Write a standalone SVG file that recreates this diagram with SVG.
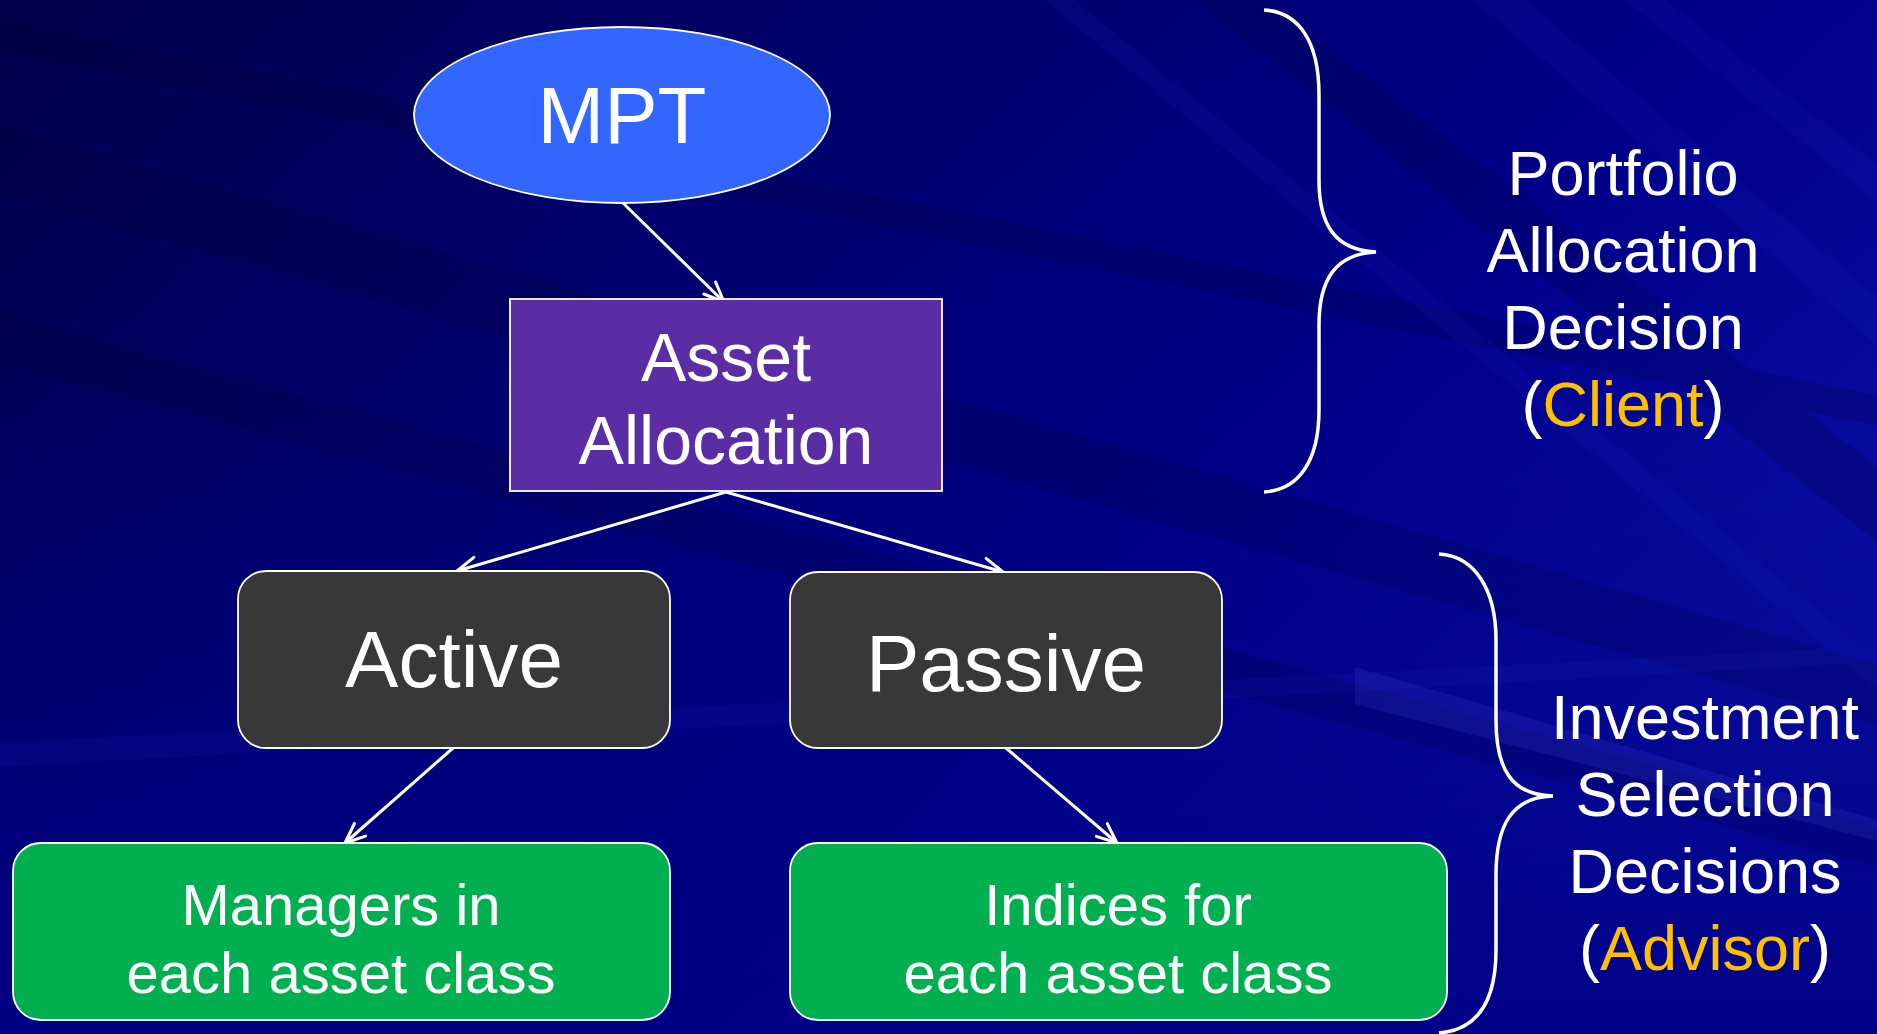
<svg xmlns="http://www.w3.org/2000/svg" width="1877" height="1034" viewBox="0 0 1877 1034">
  <defs>
    <linearGradient id="bg" x1="0" y1="0" x2="1" y2="0.6">
      <stop offset="0" stop-color="#00004a"/>
      <stop offset="0.35" stop-color="#00006c"/>
      <stop offset="0.7" stop-color="#00008a"/>
      <stop offset="1" stop-color="#0810a6"/>
    </linearGradient>
    <linearGradient id="lowfade" x1="0" y1="0" x2="0" y2="1">
      <stop offset="0" stop-color="#000080" stop-opacity="0"/>
      <stop offset="1" stop-color="#000084" stop-opacity="0.9"/>
    </linearGradient>
    <marker id="arrow" viewBox="0 0 12 12" refX="11" refY="6" markerWidth="24" markerHeight="24" markerUnits="userSpaceOnUse" orient="auto">
      <path d="M1,1.8 L11,6 L1,10.2" fill="none" stroke="#ffffff" stroke-width="1.5" stroke-linecap="round" stroke-linejoin="round"/>
    </marker>
    <style>
      .lbl { font-family: "Liberation Sans", Arial, sans-serif; fill: #ffffff; text-anchor: middle; }
      .hl { fill: #ffc000; }
      .edge { fill: none; stroke: #ffffff; stroke-width: 3; marker-end: url(#arrow); }
      .brace { fill: none; stroke: #ffffff; stroke-width: 3.5; }
      .outline { stroke: #ffffff; stroke-width: 1.8; }
    </style>
  </defs>

  <!-- backdrop with soft diagonal rays -->
  <g id="backdrop">
    <rect width="1877" height="1034" fill="url(#bg)"/>
    <rect y="420" width="1877" height="614" fill="url(#lowfade)"/>
    <g fill="#000030" opacity="0.18">
      <polygon points="-50,110 2000,700 2000,760 -50,180"/>
      <polygon points="-50,300 2000,860 2000,900 -50,350"/>
      <polygon points="1240,-20 2000,560 2000,640 1170,-20"/>
      <polygon points="-50,10 2000,420 2000,450 -50,40"/>
    </g>
    <g fill="#2030d0" opacity="0.1">
      <polygon points="1500,-20 2000,400 2000,450 1450,-20"/>
      <polygon points="1640,-20 2000,260 2000,300 1600,-20"/>
      <polygon points="1050,-20 2000,760 2000,790 1020,-20"/>
      <polygon points="-50,745 2000,640 2000,655 -50,770"/>
    </g>
    <polygon points="1355,667 1877,820 1877,841 1355,704" fill="#4050e0" opacity="0.18"/>
  </g>

  <!-- connectors -->
  <g id="connectors">
    <path class="edge" d="M623,203 L724,302"/>
    <path class="edge" d="M726,492 L457,571"/>
    <path class="edge" d="M726,492 L1003,572"/>
    <path class="edge" d="M453,748 L345,843"/>
    <path class="edge" d="M1006,748 L1117,843"/>
  </g>

  <g id="mpt">
    <ellipse class="outline" cx="622" cy="115" rx="208" ry="88" fill="#3366ff"/>
    <text class="lbl" x="622" y="143" font-size="80">MPT</text>
  </g>

  <g id="asset-allocation">
    <rect class="outline" x="510" y="299" width="432" height="192" fill="#5a2da5"/>
    <text class="lbl" x="726" y="381" font-size="68">Asset</text>
    <text class="lbl" x="726" y="464" font-size="68">Allocation</text>
  </g>

  <g id="active">
    <rect class="outline" x="238" y="571" width="432" height="177" rx="28" ry="28" fill="#383838"/>
    <text class="lbl" x="454" y="687" font-size="80">Active</text>
  </g>

  <g id="passive">
    <rect class="outline" x="790" y="572" width="432" height="176" rx="28" ry="28" fill="#383838"/>
    <text class="lbl" x="1006" y="691" font-size="80">Passive</text>
  </g>

  <g id="managers">
    <rect class="outline" x="13" y="843" width="657" height="177" rx="28" ry="28" fill="#00b050"/>
    <text class="lbl" x="341" y="925" font-size="58">Managers in</text>
    <text class="lbl" x="341" y="993" font-size="58">each asset class</text>
  </g>

  <g id="indices">
    <rect class="outline" x="790" y="843" width="657" height="177" rx="28" ry="28" fill="#00b050"/>
    <text class="lbl" x="1118" y="925" font-size="58">Indices for</text>
    <text class="lbl" x="1118" y="993" font-size="58">each asset class</text>
  </g>

  <g id="portfolio-allocation">
    <path class="brace" d="M1264,10 C1298,12 1319,40 1319,95 L1319,180 C1319,225 1335,250 1376,252 C1335,254 1319,280 1319,325 L1319,410 C1319,462 1298,490 1264,492"/>
    <text class="lbl" x="1623" y="195" font-size="63">Portfolio</text>
    <text class="lbl" x="1623" y="272" font-size="63">Allocation</text>
    <text class="lbl" x="1623" y="349" font-size="63">Decision</text>
    <text class="lbl" x="1623" y="426" font-size="63">(<tspan class="hl">Client</tspan>)</text>
  </g>

  <g id="investment-selection">
    <path class="brace" d="M1439,554 C1475,556 1496,590 1496,640 L1496,720 C1496,770 1512,795 1553,796 C1512,797 1496,825 1496,875 L1496,950 C1496,1005 1475,1030 1439,1033"/>
    <text class="lbl" x="1705" y="739" font-size="63">Investment</text>
    <text class="lbl" x="1705" y="816" font-size="63">Selection</text>
    <text class="lbl" x="1705" y="893" font-size="63">Decisions</text>
    <text class="lbl" x="1705" y="970" font-size="63">(<tspan class="hl">Advisor</tspan>)</text>
  </g>
</svg>
